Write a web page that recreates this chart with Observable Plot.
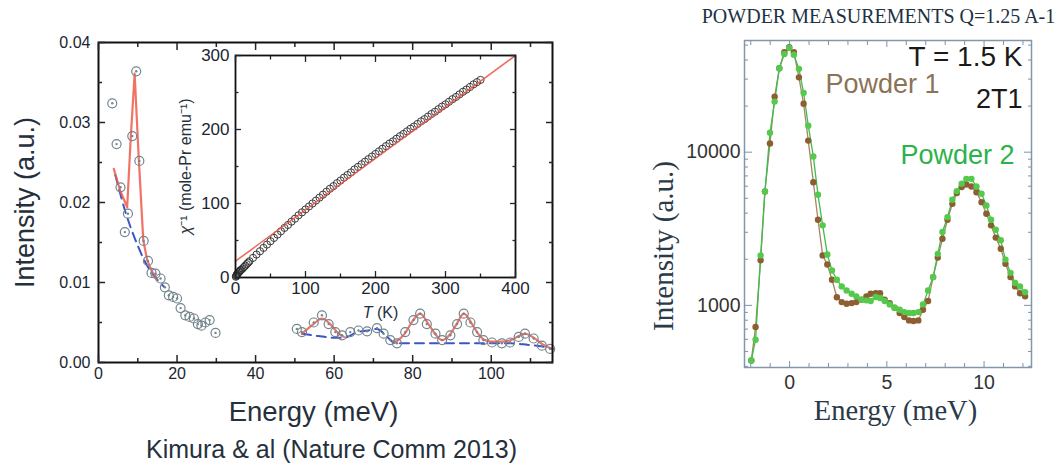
<!DOCTYPE html>
<html><head><meta charset="utf-8">
<script src="https://cdn.jsdelivr.net/npm/d3@7"></script>
<script src="https://cdn.jsdelivr.net/npm/@observablehq/plot@0.6"></script>
<style>
body{margin:0;background:#fff;}
#wrap{position:relative;width:1059px;height:468px;overflow:hidden;background:#fff;}
#wrap svg{position:absolute;overflow:visible;}
</style></head><body><div id="wrap"></div>
<script>
// ---------- Left panel: Kimura et al. INS spectrum ----------
const lowE = [3.5,4.6,5.6,6.7,7.5,8.6,9.6,10.4,11.5,12.6,13.5,14.5,15.8,16.9,17.9,19.0,20.0,20.9,22.1,23.2,24.3,25.3,26.2,27.2,28.3,29.8];
const lowI = [0.0324,0.0273,0.0219,0.0163,0.0186,0.0283,0.0364,0.0252,0.0152,0.0127,0.0112,0.0111,0.0105,0.0094,0.0084,0.0082,0.0080,0.0068,0.0059,0.0057,0.0055,0.0048,0.0046,0.0050,0.0053,0.0037];
const highE = [50.5,51.8,54.8,56.9,58.6,60.3,62.0,64.1,66.2,68.4,70.9,72.6,74.3,76.0,78.1,80.2,81.9,83.6,85.8,87.5,89.6,91.3,93.0,94.7,96.4,98.0,100.2,102.7,104.8,107.0,108.6,110.8,112.9,115.0];
const highI = [0.0042,0.0038,0.0050,0.0059,0.0048,0.0038,0.0034,0.0038,0.0040,0.0039,0.0043,0.0036,0.0028,0.0024,0.0038,0.0053,0.0061,0.0048,0.0036,0.0028,0.0034,0.0048,0.0061,0.0050,0.0038,0.0028,0.0025,0.0024,0.0025,0.0032,0.0036,0.0030,0.0021,0.0017];
const fitLowE = [3.9,5.5,7.3,8.2,9.2,10.2,11.4,12.4,13.5,14.9];
const fitLowI = [0.0242,0.0215,0.0194,0.0280,0.0361,0.0260,0.0153,0.0128,0.0115,0.0103];
const fitHighAE = [51.8,54.5,56.9,59.0,61.2,62.5];
const fitHighAI = [0.0036,0.0047,0.0055,0.0048,0.0036,0.0032];
const fitHighBE = [75.5,78.0,80.0,81.9,84.0,86.0,87.5,89.5,91.3,93.0,95.0,96.5,98.0,100.0,102.7,105.0,107.0,108.6,110.5,113.0,115.6];
const fitHighBI = [0.0025,0.0036,0.0052,0.0061,0.0048,0.0034,0.0028,0.0035,0.0049,0.0061,0.0049,0.0037,0.0029,0.0026,0.0026,0.0028,0.0033,0.0036,0.0032,0.0023,0.0017];
const bgLowE = [4.3,7.0,10.0,13.0,16.6];
const bgLowI = [0.0234,0.0186,0.0146,0.0116,0.0095];
const bgHighE = [51.8,56.0,60.0,62.5,65.9,68.5,70.9,73.5,75.7,80,85,95,100,105,109.4,113,115.6];
const bgHighI = [0.0036,0.0033,0.0031,0.0031,0.0038,0.0040,0.0042,0.0032,0.0024,0.0024,0.0024,0.0024,0.0024,0.0024,0.0022,0.0020,0.0017];
const mainMajorX = [0,20,40,60,80,100];
const mainMinorX = [10,30,50,70,90,110];
const mainMajorY = [0,0.01,0.02,0.03,0.04];
const mainMinorY = [0.005,0.015,0.025,0.035];

// ---------- Inset: inverse susceptibility ----------
const chiT = [0.5,1,1.5,2,3,4,5,6,7,8,10,12,14,16,18,20,25,30,35,40,45,50,55,60,65,70,75,80,85,90,95,100,105,110,115,120,125,130,135,140,145,150,155,160,165,170,175,180,185,190,195,200,205,210,215,220,225,230,235,240,245,250,255,260,265,270,275,280,285,290,295,300,305,310,315,320,325,330,335,340,345,350];
const chiInv = [1,2,3,4,5,6.5,7.5,8.5,9.5,10.5,12,14,16,18,20,22,26.5,31,35.5,40,44.5,49,53.5,58,62.5,67,71,75.5,79.5,84,88,92,96,100,104,108,112,116,120,123.5,127.5,131,135,138.5,142,146,149.5,153,156.5,160,163.5,167,170.5,174,177.5,181,184,187.5,191,194,197.5,201,204,207.5,211,214,217.5,221,224,227.5,231,234,237.5,241,244,247.5,251,254,257.5,261,264,267];
const cwT = [0,400];
const cwChi = [22,300];
const insetMajorX = [0,100,200,300,400];
const insetMinorX = [50,150,250,350];
const insetMajorY = [0,100,200,300];
const insetMinorY = [50,150,250];

// ---------- Right panel: powder measurements ----------
const powE = [-1.97,-1.75,-1.49,-1.27,-1.01,-0.77,-0.53,-0.27,-0.02,0.22,0.48,0.72,0.96,1.22,1.46,1.70,1.94,2.18,2.43,2.68,2.93,3.19,3.43,3.69,3.95,4.17,4.43,4.65,4.89,5.15,5.40,5.66,5.90,6.14,6.37,6.62,6.86,7.12,7.38,7.62,7.86,8.12,8.37,8.60,8.85,9.09,9.35,9.61,9.87,10.12,10.36,10.60,10.86,11.10,11.36,11.60,11.85,12.11];
const powder1 = [437,722,1970,5540,11400,23000,35300,44900,48400,44900,30800,20700,11900,6370,3620,2120,1850,1470,1130,1050,1025,1035,1050,1090,1145,1190,1200,1200,1090,1035,966,891,839,798,790,798,937,1067,1530,2050,2720,3620,4600,5410,5920,6150,5970,5480,4720,3960,3330,2770,2340,1870,1530,1330,1200,1145];
const powder2 = [437,597,2120,5540,13400,21400,35300,43800,48000,43300,35000,24400,14900,9380,5270,3330,2150,1690,1470,1330,1250,1190,1145,1090,1078,1067,1133,1116,1067,1015,966,937,904,891,891,904,1015,1250,1530,2170,3010,3770,4890,5570,6230,6700,6700,5970,5360,4490,3620,3120,2660,1990,1630,1400,1330,1220];
const rightMajorX = [0,5,10];
const rightMinorX = [-2,-1,1,2,3,4,6,7,8,9,11,12];
const rightMajorY = [1000,10000];
const rightMinorY = [400,500,600,700,800,900,2000,3000,4000,5000,6000,7000,8000,9000,20000,30000,40000,50000];

function rows(xs, ys) { const n = Math.min(xs.length, ys.length); return d3.range(n).map(i => ({x: xs[i], y: ys[i]})); }

const sans = "'Liberation Sans', Arial, Helvetica, sans-serif";
const serif = "'Liberation Serif', 'DejaVu Serif', serif";
const wrap = document.getElementById("wrap");

function place(svg, left, top) { svg.style.left = left + "px"; svg.style.top = top + "px"; svg.style.maxWidth = "none"; wrap.appendChild(svg); return svg; }

// Main left plot
const main = Plot.plot({
  width: 560, height: 468,
  marginLeft: 98, marginRight: 8, marginTop: 42, marginBottom: 106,
  x: {domain: [0, 115.6]}, y: {domain: [0, 0.04]},
  style: {fontFamily: sans, color: "#1c2530", background: "transparent", overflow: "visible"},
  marks: [
    Plot.line(rows(bgLowE, bgLowI), {x: "x", y: "y", stroke: "#3d55c8", strokeWidth: 2, strokeDasharray: "9,6", curve: "natural"}),
    Plot.line(rows(bgHighE, bgHighI), {x: "x", y: "y", stroke: "#3d55c8", strokeWidth: 2, strokeDasharray: "9,6", curve: "monotone-x"}),
    Plot.line(rows(fitLowE, fitLowI), {x: "x", y: "y", stroke: "#ef5a4a", strokeWidth: 2.2, strokeOpacity: 0.85}),
    Plot.line(rows(fitHighAE, fitHighAI), {x: "x", y: "y", stroke: "#ef5a4a", strokeWidth: 2.2, strokeOpacity: 0.85, curve: "monotone-x"}),
    Plot.line(rows(fitHighBE, fitHighBI), {x: "x", y: "y", stroke: "#ef5a4a", strokeWidth: 2.2, strokeOpacity: 0.85, curve: "monotone-x"}),
    Plot.dot(rows(lowE, lowI), {x: "x", y: "y", r: 4.5, stroke: "#73858e", strokeWidth: 1.2}),
    Plot.dot(rows(lowE, lowI), {x: "x", y: "y", r: 1.2, fill: "#73858e"}),
    Plot.dot(rows(highE, highI), {x: "x", y: "y", r: 4.5, stroke: "#73858e", strokeWidth: 1.2}),
    Plot.dot(rows(highE, highI), {x: "x", y: "y", r: 1.2, fill: "#73858e"}),
    Plot.frame({stroke: "#111", strokeWidth: 2}),
    Plot.axisX(mainMajorX, {anchor: "bottom", tickSize: -7, tickPadding: 12, fontSize: 16, label: null, strokeWidth: 1.5, tickFormat: d => String(d)}),
    Plot.axisX(mainMinorX, {anchor: "bottom", tickSize: -4, fill: "none", label: null, strokeWidth: 1.5}),
    Plot.axisX(mainMajorX, {anchor: "top", tickSize: -7, fill: "none", label: null, strokeWidth: 1.5}),
    Plot.axisX(mainMinorX, {anchor: "top", tickSize: -4, fill: "none", label: null, strokeWidth: 1.5}),
    Plot.axisY(mainMajorY, {anchor: "left", tickSize: -7, tickPadding: 15, fontSize: 16, label: null, strokeWidth: 1.5, tickFormat: d3.format(".2f")}),
    Plot.axisY(mainMinorY, {anchor: "left", tickSize: -4, fill: "none", label: null, strokeWidth: 1.5}),
    Plot.axisY(mainMajorY, {anchor: "right", tickSize: -7, fill: "none", label: null, strokeWidth: 1.5}),
    Plot.axisY(mainMinorY, {anchor: "right", tickSize: -4, fill: "none", label: null, strokeWidth: 1.5}),
    Plot.text(["Intensity (a.u.)"], {frameAnchor: "left", dx: -73, rotate: -90, fontSize: 27, fill: "#26303c", textAnchor: "middle", lineAnchor: "middle"}),
    Plot.text(["Energy (meV)"], {frameAnchor: "bottom", dx: -12, dy: 58, fontSize: 27.5, fill: "#26303c", lineAnchor: "bottom"}),
    Plot.text(["Kimura & al (Nature Comm 2013)"], {frameAnchor: "bottom", dx: 6, dy: 95, fontSize: 25, fill: "#26303c", lineAnchor: "bottom"})
  ]
});
place(main, 0, 0);

// Inset
const inset = Plot.plot({
  width: 380, height: 290,
  marginLeft: 85, marginRight: 15, marginTop: 10, marginBottom: 58,
  x: {domain: [0, 400]}, y: {domain: [0, 300]},
  style: {fontFamily: sans, color: "#1c2530", background: "transparent", overflow: "visible"},
  marks: [
    Plot.dot(rows(chiT, chiInv), {x: "x", y: "y", r: 3.6, stroke: "#2a2a2a", strokeWidth: 0.9}),
    Plot.line(rows(cwT, cwChi), {x: "x", y: "y", stroke: "#ee5a4c", strokeWidth: 1.6, strokeOpacity: 0.9}),
    Plot.frame({stroke: "#111", strokeWidth: 1.8}),
    Plot.axisX(insetMajorX, {anchor: "bottom", tickSize: -6, tickPadding: 10, fontSize: 17, label: null, strokeWidth: 1.3, tickFormat: d => String(d)}),
    Plot.axisX(insetMinorX, {anchor: "bottom", tickSize: -3.5, fill: "none", label: null, strokeWidth: 1.3}),
    Plot.axisX(insetMajorX, {anchor: "top", tickSize: -6, fill: "none", label: null, strokeWidth: 1.3}),
    Plot.axisX(insetMinorX, {anchor: "top", tickSize: -3.5, fill: "none", label: null, strokeWidth: 1.3}),
    Plot.axisY(insetMajorY, {anchor: "left", tickSize: -6, tickPadding: 12, fontSize: 17, label: null, strokeWidth: 1.3, tickFormat: d => String(d)}),
    Plot.axisY(insetMinorY, {anchor: "left", tickSize: -3.5, fill: "none", label: null, strokeWidth: 1.3}),
    Plot.axisY(insetMajorY, {anchor: "right", tickSize: -6, fill: "none", label: null, strokeWidth: 1.3}),
    Plot.axisY(insetMinorY, {anchor: "right", tickSize: -3.5, fill: "none", label: null, strokeWidth: 1.3}),
    Plot.text(["χ⁻¹ (mole-Pr emu⁻¹)"], {frameAnchor: "left", dx: -50, rotate: -90, fontSize: 16, fill: "#26303c", textAnchor: "middle", lineAnchor: "middle"}),
    Plot.text(["T (K)"], {frameAnchor: "bottom", dx: 5, dy: 40, fontSize: 16, fill: "#26303c", lineAnchor: "bottom"})
  ]
});
place(inset, 150, 45);
d3.select(inset).selectAll("text").filter(function() { return this.textContent === "T (K)"; }).each(function() {
  const t = d3.select(this); t.text("");
  t.append("tspan").attr("font-style", "italic").text("T");
  t.append("tspan").text(" (K)");
});
d3.select(inset).selectAll("text").filter(function() { return this.textContent === "χ⁻¹ (mole-Pr emu⁻¹)"; }).each(function() {
  const t = d3.select(this); t.text("");
  t.append("tspan").attr("font-style", "italic").text("χ");
  t.append("tspan").text("⁻¹ (mole-Pr emu⁻¹)");
});

// Right plot
const right = Plot.plot({
  width: 419, height: 468,
  marginLeft: 104, marginRight: 28, marginTop: 40, marginBottom: 101,
  x: {domain: [-2.32, 12.44]}, y: {type: "log", domain: [393, 53600]},
  style: {fontFamily: sans, color: "#333", background: "transparent", overflow: "visible"},
  marks: [
    Plot.line(rows(powE, powder1), {x: "x", y: "y", stroke: "#a88462", strokeWidth: 1.3}),
    Plot.line(rows(powE, powder2), {x: "x", y: "y", stroke: "#3cbf4c", strokeWidth: 1.3}),
    Plot.dot(rows(powE, powder1), {x: "x", y: "y", r: 3.2, fill: "#8c5e32"}),
    Plot.dot(rows(powE, powder2), {x: "x", y: "y", r: 3.2, fill: "#55c94b"}),
    Plot.frame({stroke: "#8397ab", strokeWidth: 1.5}),
    Plot.axisX(rightMajorX, {anchor: "bottom", tickSize: -6, tickPadding: 14, fontSize: 19.5, label: null, stroke: "#7f93a8", tickFormat: d => String(d)}),
    Plot.axisX(rightMinorX, {anchor: "bottom", tickSize: -4, fill: "none", label: null, stroke: "#7f93a8"}),
    Plot.axisX(rightMajorX, {anchor: "top", tickSize: -6, fill: "none", label: null, stroke: "#7f93a8"}),
    Plot.axisX(rightMinorX, {anchor: "top", tickSize: -4, fill: "none", label: null, stroke: "#7f93a8"}),
    Plot.axisY(rightMajorY, {anchor: "left", tickSize: -8, tickPadding: 12, fontSize: 19.5, label: null, stroke: "#7f93a8", tickFormat: d => String(d)}),
    Plot.axisY(rightMinorY, {anchor: "left", tickSize: -4, fill: "none", label: null, stroke: "#7f93a8"}),
    Plot.axisY(rightMajorY, {anchor: "right", tickSize: -8, fill: "none", label: null, stroke: "#7f93a8"}),
    Plot.axisY(rightMinorY, {anchor: "right", tickSize: -4, fill: "none", label: null, stroke: "#7f93a8"}),
    Plot.text(["POWDER MEASUREMENTS Q=1.25 A-1"], {frameAnchor: "top", dx: -9.5, dy: -18, fontSize: 20, fontFamily: serif, fill: "#22313f", lineAnchor: "bottom"}),
    Plot.text(["T = 1.5 K"], {frameAnchor: "top-right", dx: -9, dy: 25, fontSize: 28, fill: "#1a1a1a", textAnchor: "end", lineAnchor: "bottom"}),
    Plot.text(["2T1"], {frameAnchor: "top-right", dx: -9, dy: 67, fontSize: 27, fill: "#1a1a1a", textAnchor: "end", lineAnchor: "bottom"}),
    Plot.text(["Powder 1"], {frameAnchor: "top-left", dx: 81, dy: 52, fontSize: 27, fill: "#8b7355", textAnchor: "start", lineAnchor: "bottom"}),
    Plot.text(["Powder 2"], {frameAnchor: "top-left", dx: 156, dy: 123, fontSize: 27, fill: "#2bb34a", textAnchor: "start", lineAnchor: "bottom"}),
    Plot.text(["Intensity (a.u.)"], {frameAnchor: "left", dx: -81, dy: 42, rotate: -90, fontSize: 29, fontFamily: serif, fill: "#2b3a48", textAnchor: "middle", lineAnchor: "middle"}),
    Plot.text(["Energy (meV)"], {frameAnchor: "bottom", dx: 7.5, dy: 52, fontSize: 28.5, fontFamily: serif, fill: "#2b3a48", lineAnchor: "bottom"})
  ]
});
place(right, 640, 0);
</script></body></html>
